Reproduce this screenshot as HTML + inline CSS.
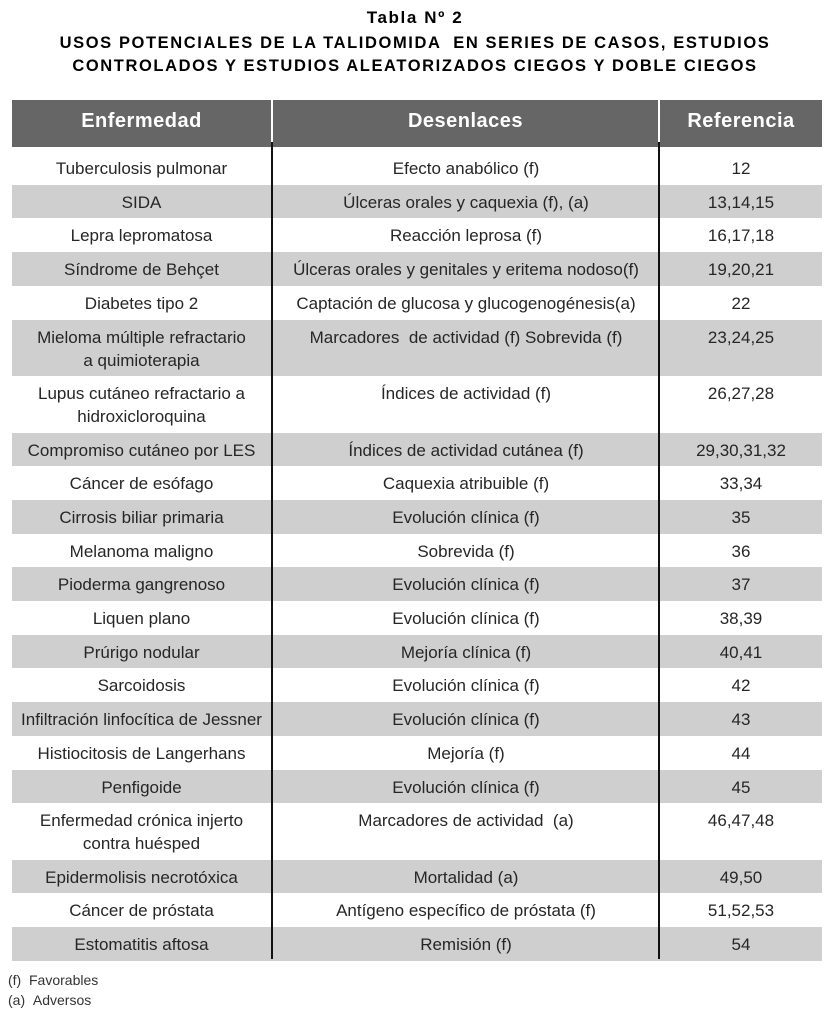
<!DOCTYPE html>
<html><head><meta charset="utf-8">
<style>
body{margin:0;width:830px;height:1015px;background:#fff;position:relative;font-family:"Liberation Sans",sans-serif;color:#222;overflow:hidden}
.t{position:absolute;left:0;width:830px;text-align:center;font-weight:bold;font-size:16.5px;color:#000;letter-spacing:1.6px}
.hdr{position:absolute;top:100px;height:47px;background:#666;color:#fff;font-weight:bold;font-size:20px;line-height:42px;text-align:center;letter-spacing:0.5px}
.row{position:absolute;left:12px;width:810px}
.cell{position:absolute;top:0;text-align:center;font-size:17px;line-height:23px;padding-top:5px;white-space:nowrap;color:#262626}
.vl{position:absolute;width:2px;background:#111}
.fn{position:absolute;left:8px;font-size:14px;color:#333}
</style></head><body>
<div class="t" style="top:8px;font-size:17px">Tabla Nº 2</div>
<div class="t" style="top:34px">USOS POTENCIALES DE LA TALIDOMIDA &nbsp;EN SERIES DE CASOS, ESTUDIOS</div>
<div class="t" style="top:57px">CONTROLADOS Y ESTUDIOS ALEATORIZADOS CIEGOS Y DOBLE CIEGOS</div>
<div class="hdr" style="left:12px;width:259px">Enfermedad</div>
<div class="hdr" style="left:273px;width:385px">Desenlaces</div>
<div class="hdr" style="left:660px;width:162px">Referencia</div>
<div id="body"></div>
<div class="vl" style="left:271px;top:142px;height:817px"></div>
<div class="vl" style="left:658px;top:142px;height:817px"></div>
<div class="fn" style="top:972px">(f) &nbsp;Favorables</div>
<div class="fn" style="top:992px">(a) &nbsp;Adversos</div>
<script>
const diseases=["Tuberculosis pulmonar","SIDA","Lepra lepromatosa","Síndrome de Behçet","Diabetes tipo 2","Mieloma múltiple refractario<br>a quimioterapia","Lupus cutáneo refractario a<br>hidroxicloroquina","Compromiso cutáneo por LES","Cáncer de esófago","Cirrosis biliar primaria","Melanoma maligno","Pioderma gangrenoso","Liquen plano","Prúrigo nodular","Sarcoidosis","Infiltración linfocítica de Jessner","Histiocitosis de Langerhans","Penfigoide","Enfermedad crónica injerto<br>contra huésped","Epidermolisis necrotóxica","Cáncer de próstata","Estomatitis aftosa"];
const outcomes=["Efecto anabólico (f)","Úlceras orales y caquexia (f), (a)","Reacción leprosa (f)","Úlceras orales y genitales y eritema nodoso(f)","Captación de glucosa y glucogenogénesis(a)","Marcadores &nbsp;de actividad (f) Sobrevida (f)","Índices de actividad (f)","Índices de actividad cutánea (f)","Caquexia atribuible (f)","Evolución clínica (f)","Sobrevida (f)","Evolución clínica (f)","Evolución clínica (f)","Mejoría clínica (f)","Evolución clínica (f)","Evolución clínica (f)","Mejoría (f)","Evolución clínica (f)","Marcadores de actividad &nbsp;(a)","Mortalidad (a)","Antígeno específico de próstata (f)","Remisión (f)"];
const refs=["12","13,14,15","16,17,18","19,20,21","22","23,24,25","26,27,28","29,30,31,32","33,34","35","36","37","38,39","40,41","42","43","44","45","46,47,48","49,50","51,52,53","54"];
const body=document.getElementById('body');
let y=151, shade=false;
for(let i=0;i<diseases.length;i++){
  const dbl=diseases[i].includes('<br>');
  const h=dbl?56.5:33.7;
  const r=document.createElement('div');
  r.className='row';
  
  
  r.style.top=y+'px';r.style.height=h+'px';
  if(shade) r.style.background='#cfcfcf';
  const cols=[[0,259,diseases[i]],[261,386,outcomes[i]],[648,162,refs[i]]];
  cols.forEach((c,j)=>{
    const d=document.createElement('div');
    d.className='cell';
    
    
    d.style.left=c[0]+'px';d.style.width=c[1]+'px';
    d.style.paddingTop='6px';
    d.innerHTML=c[2];
    r.appendChild(d);
  });
  body.appendChild(r);
  y+=h; shade=!shade;
}
</script>
</body></html>
